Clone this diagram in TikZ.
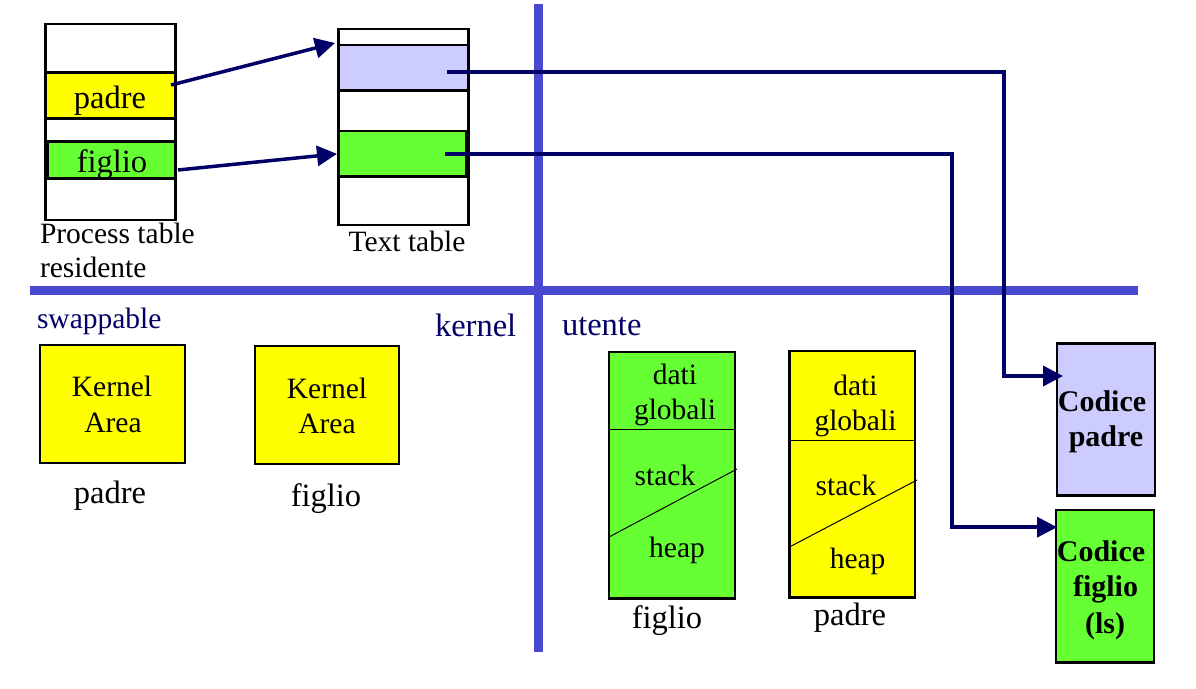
\documentclass[tikz,border=0pt]{standalone}
\usepackage{fontspec}
\setmainfont{Liberation Serif}
\usetikzlibrary{arrows.meta,calc}
\definecolor{ylw}{RGB}{255,255,0}
\definecolor{grn}{RGB}{102,255,51}
\definecolor{lav}{RGB}{204,204,255}
\definecolor{sepblue}{RGB}{72,72,208}
\definecolor{navy}{RGB}{0,0,102}
\tikzset{
 rbox/.style={draw=black, line width=2.5pt, inner sep=0pt, outer sep=0pt, rectangle},
 txt/.style={inner sep=0pt, outer sep=0pt, anchor=base, font=\fontsize{29.5}{31}\selectfont},
 bigtxt/.style={txt, font=\fontsize{32.5}{34}\selectfont},
 boldtxt/.style={txt, font=\fontsize{30}{32}\selectfont\bfseries},
 navytxt/.style={txt, text=navy, font=\fontsize{29.5}{31}\selectfont},
 navybig/.style={txt, text=navy, font=\fontsize{32.5}{34}\selectfont},
 conn/.style={draw=navy, line width=3.5pt, -{Triangle[length=20pt,width=20pt]}},
 seprule/.style={draw=sepblue, line width=9pt},
 thinline/.style={draw=black, line width=1pt}
}
\begin{document}
\begin{tikzpicture}[x=1pt,y=-1pt]
\fill[white] (0,0) rectangle (1196,688);
\useasboundingbox (0,0) rectangle (1196,688);

% separators
\draw[seprule] (538,4) -- (538,652);
\draw[seprule] (30,290) -- (1138,290);

% process table
\node[rbox, minimum width=130pt, minimum height=196pt] (ptab) at (110.7,122) {};
\node[rbox, fill=ylw, minimum width=130pt, minimum height=45.6pt] (ppadre) at (110.7,95.5) {};
\node[rbox, fill=grn, minimum width=128pt, minimum height=36.6pt] (pfiglio) at (111.7,160) {};
\node[bigtxt] (lpadre) at (110,108) {padre};
\node[bigtxt] (lfiglio) at (112,172) {figlio};
\node[txt, anchor=base west] (lpt1) at (40,243) {Process table};
\node[txt, anchor=base west] (lpt2) at (40,277) {residente};

% text table
\node[rbox, minimum width=130pt, minimum height=196pt] (ttab) at (403.3,127) {};
\node[rbox, fill=lav, minimum width=130pt, minimum height=45.7pt] (tlav) at (403.3,67.85) {};
\node[rbox, fill=grn, minimum width=128.4pt, minimum height=45.7pt] (tgrn) at (402.5,153.85) {};
\node[txt] (ltt) at (407,251) {Text table};

% kernel areas
\node[navytxt, anchor=base west] (lswap) at (37,328) {swappable};
\node[navybig, anchor=base west] (lkernel) at (435,336.7) {kernel};
\node[navybig, anchor=base west] (lutente) at (562,335) {utente};
\node[rbox, fill=ylw, minimum width=145pt, minimum height=118pt] (ka1) at (112.5,404) {};
\node[rbox, fill=ylw, minimum width=144pt, minimum height=118pt] (ka2) at (327,405) {};
\node[txt] (ka1a) at (112,396.7) {Kernel};
\node[txt] (ka1b) at (113,432.7) {Area};
\node[txt] (ka2a) at (327,398) {Kernel};
\node[txt] (ka2b) at (327,433) {Area};
\node[bigtxt] (lka1) at (110,503) {padre};
\node[bigtxt] (lka2) at (326,506.7) {figlio};

% user stacks
\node[rbox, fill=grn, minimum width=126pt, minimum height=246.5pt] (sf) at (672,475.25) {};
\node[rbox, fill=ylw, minimum width=125.6pt, minimum height=246.7pt] (sp) at (852.2,474.35) {};
\draw[thinline] ($(sf.north west)+(0,77.3)$) -- ($(sf.north east)+(0,77.3)$);
\draw[thinline] ($(sf.north west)+(0,185)$) -- ($(sf.north east)+(2,117)$);
\draw[thinline] ($(sp.north west)+(0,89.3)$) -- ($(sp.north east)+(0,89.3)$);
\draw[thinline] ($(sp.north west)+(0.6,195.7)$) -- ($(sp.north east)+(2,129)$);
\node[txt] (sfd) at (675,384.3) {dati};
\node[txt] (sfg) at (675,419) {globali};
\node[txt] (sfs) at (665,485) {stack};
\node[txt] (sfh) at (677,557.7) {heap};
\node[bigtxt] (lsf) at (667,628.3) {figlio};
\node[txt] (spd) at (855.5,395) {dati};
\node[txt] (spg) at (855.5,430) {globali};
\node[txt] (sps) at (846,495) {stack};
\node[txt] (sph) at (857.6,568) {heap};
\node[bigtxt] (lsp) at (850,625) {padre};

% code boxes
\node[rbox, fill=lav, minimum width=98pt, minimum height=152.4pt] (cpadre) at (1106,419.5) {};
\node[rbox, fill=grn, minimum width=98pt, minimum height=152.3pt] (cfiglio) at (1105,586.2) {};
\node[boldtxt] (cp1) at (1102,411) {Codice};
\node[boldtxt] (cp2) at (1106,446.7) {padre};
\node[boldtxt] (cf1) at (1101,561) {Codice};
\node[boldtxt] (cf2) at (1105.5,596.7) {figlio};
\node[boldtxt] (cf3) at (1105,633) {(ls)};

% connectors
\draw[conn] ([xshift=-4.7pt,yshift=10.5pt]ppadre.east) -- ([xshift=-3.3pt,yshift=2pt]tlav.north west);
\draw[conn] ([xshift=2.3pt,yshift=-10pt]pfiglio.east) -- ([xshift=-1.3pt]tgrn.west);
\draw[conn] ([xshift=-21.3pt,yshift=-4pt]tlav.east) -| ([xshift=-53pt,yshift=43.5pt]cpadre.west) -- ([xshift=6pt,yshift=43.5pt]cpadre.west);
\draw[conn] ([xshift=-22pt]tgrn.east) -| ([xshift=-104pt,yshift=59pt]cfiglio.west) -- ([xshift=1pt,yshift=59pt]cfiglio.west);
\end{tikzpicture}
\end{document}
